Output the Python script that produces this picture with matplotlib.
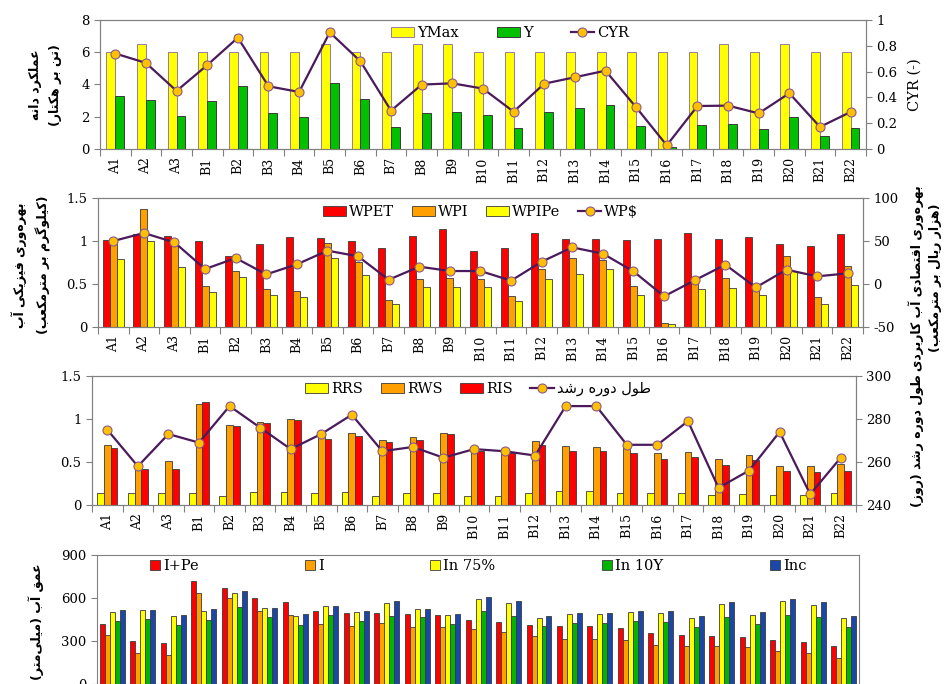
import numpy as np
import matplotlib
matplotlib.use("Agg")
import matplotlib.pyplot as plt
from matplotlib.ticker import FuncFormatter

plt.rcParams['font.family'] = ['DejaVu Serif', 'DejaVu Sans']
plt.rcParams['font.size'] = 9

# ---- data ----
cats = ['A1', 'A2', 'A3', 'B1', 'B2', 'B3', 'B4', 'B5', 'B6', 'B7', 'B8', 'B9', 'B10',
        'B11', 'B12', 'B13', 'B14', 'B15', 'B16', 'B17', 'B18', 'B19', 'B20', 'B21', 'B22']

ymax = [6, 6.5, 6, 6, 6, 6, 6, 6.5, 6, 6, 6.5, 6.5, 6, 6, 6, 6, 6, 6, 6, 6, 6.5, 6, 6.5, 6, 6]
yld = [3.31, 3.04, 2.02, 2.98, 3.88, 2.21, 2.0, 4.09, 3.1, 1.34, 2.23, 2.29, 2.11,
       1.32, 2.29, 2.52, 2.75, 1.45, 0.14, 1.51, 1.55, 1.26, 1.96, 0.79, 1.32]
cyr = [0.74, 0.667, 0.45, 0.65, 0.863, 0.486, 0.442, 0.904, 0.68, 0.297, 0.499, 0.509, 0.468,
       0.289, 0.506, 0.556, 0.607, 0.323, 0.028, 0.333, 0.336, 0.276, 0.432, 0.171, 0.287]

wpet = [1.016, 1.08, 1.06, 1.0, 0.83, 0.965, 1.05, 1.03, 1.0, 0.92, 1.06, 1.14, 0.884,
        0.922, 1.09, 1.02, 1.02, 1.01, 1.02, 1.09, 1.02, 1.05, 0.97, 0.94, 1.08]
wpi = [0.977, 1.376, 0.953, 0.473, 0.647, 0.442, 0.419, 0.977, 0.76, 0.318, 0.562, 0.566, 0.554,
       0.36, 0.674, 0.80, 0.78, 0.473, 0.047, 0.54, 0.566, 0.47, 0.83, 0.349, 0.71]
wpipe = [0.795, 0.996, 0.698, 0.41, 0.58, 0.368, 0.353, 0.806, 0.608, 0.267, 0.461, 0.469, 0.469,
         0.30, 0.554, 0.616, 0.674, 0.376, 0.035, 0.442, 0.453, 0.376, 0.647, 0.267, 0.49]
wp_money = [50.0, 59.3, 48.4, 17.4, 30.2, 11.2, 22.9, 38.8, 32.2, 5.0, 20.2, 15.1, 15.1,
            3.9, 26.0, 42.6, 35.3, 14.7, -14.3, 4.3, 22.5, -3.9, 16.7, 8.9, 12.4]

rrs = [0.135, 0.135, 0.143, 0.135, 0.104, 0.147, 0.147, 0.136, 0.155, 0.109, 0.135, 0.135, 0.104,
       0.108, 0.135, 0.158, 0.158, 0.143, 0.143, 0.135, 0.116, 0.128, 0.112, 0.116, 0.143]
rws = [0.70, 0.49, 0.51, 1.18, 0.93, 0.96, 0.996, 0.833, 0.833, 0.756, 0.79, 0.84, 0.65,
       0.64, 0.742, 0.684, 0.68, 0.657, 0.603, 0.618, 0.53, 0.576, 0.452, 0.452, 0.479]
ris = [0.66, 0.42, 0.42, 1.2, 0.92, 0.957, 0.988, 0.767, 0.80, 0.729, 0.76, 0.82, 0.63,
       0.607, 0.696, 0.63, 0.626, 0.60, 0.533, 0.56, 0.468, 0.522, 0.394, 0.383, 0.39]
gdays = [275, 258, 273, 269, 286, 276, 266, 273, 282, 265, 267, 262, 266,
         265, 263, 286, 286, 268, 268, 279, 248, 256, 274, 245, 262]

ipe = [419, 300, 288, 716, 672, 600, 570, 507, 498, 493, 486, 481, 447,
       433, 412, 405, 405, 391, 358, 342, 337, 330, 307, 291, 265]
irr = [342, 219, 205, 633, 602, 509, 484, 416, 407, 423, 400, 400, 381,
       360, 335, 314, 312, 307, 274, 265, 265, 258, 233, 219, 184]
in75 = [502, 514, 474, 509, 637, 530, 474, 547, 502, 565, 526, 481, 593,
        565, 458, 488, 488, 500, 498, 458, 556, 479, 579, 551, 463]
in10 = [442, 456, 409, 447, 535, 465, 414, 481, 440, 474, 465, 421, 507,
        474, 402, 423, 423, 437, 433, 400, 470, 419, 481, 470, 400]
inc = [514, 519, 484, 523, 649, 530, 486, 547, 509, 581, 526, 488, 609,
       579, 474, 498, 495, 509, 509, 474, 570, 502, 595, 570, 474]

# ---- minimal Persian shaping (matplotlib does no Arabic shaping) ----
FORMS = {
    'ا': ('\uFE8D', '\uFE8E', None, None), 'آ': ('\uFE81', '\uFE82', None, None),
    'ب': ('\uFE8F', '\uFE90', '\uFE91', '\uFE92'), 'ت': ('\uFE95', '\uFE96', '\uFE97', '\uFE98'),
    'د': ('\uFEA9', '\uFEAA', None, None), 'ر': ('\uFEAD', '\uFEAE', None, None),
    'ز': ('\uFEAF', '\uFEB0', None, None), 'ش': ('\uFEB5', '\uFEB6', '\uFEB7', '\uFEB8'),
    'ص': ('\uFEB9', '\uFEBA', '\uFEBB', '\uFEBC'), 'ط': ('\uFEC1', '\uFEC2', '\uFEC3', '\uFEC4'),
    'ع': ('\uFEC9', '\uFECA', '\uFECB', '\uFECC'), 'ف': ('\uFED1', '\uFED2', '\uFED3', '\uFED4'),
    'ق': ('\uFED5', '\uFED6', '\uFED7', '\uFED8'), 'ل': ('\uFEDD', '\uFEDE', '\uFEDF', '\uFEE0'),
    'م': ('\uFEE1', '\uFEE2', '\uFEE3', '\uFEE4'), 'ن': ('\uFEE5', '\uFEE6', '\uFEE7', '\uFEE8'),
    'ه': ('\uFEE9', '\uFEEA', '\uFEEB', '\uFEEC'), 'و': ('\uFEED', '\uFEEE', None, None),
    'ی': ('\uFBFC', '\uFBFD', '\uFBFE', '\uFBFF'), 'ک': ('\uFB8E', '\uFB8F', '\uFB90', '\uFB91'),
    'گ': ('\uFB92', '\uFB93', '\uFB94', '\uFB95'),
}


def fa(s):
    lines = []
    for line in s.split('\n'):
        out = []
        for i, c in enumerate(line):
            f = FORMS.get(c)
            if f is None:
                if c != '\u200c':
                    out.append(c)
                continue
            prev = FORMS.get(line[i - 1]) if i > 0 else None
            nxt = FORMS.get(line[i + 1]) if i + 1 < len(line) else None
            jp = prev is not None and prev[2] is not None
            jn = nxt is not None and f[2] is not None
            out.append(f[3] if jp and jn else f[1] if jp else f[2] if jn else f[0])
        vis = ''.join(reversed(out))
        lines.append(vis.translate(str.maketrans('()', ')(')))
    return '\n'.join(lines)


GRAY = '#808080'
LINE = '#4b1a5c'
MARK = '#ffc000'
MEDGE = '#8a5a8a'
EDGE = '#3a3a3a'
fmt = FuncFormatter(lambda v, p: f'{v:g}')
x = np.arange(len(cats))

fig = plt.figure(figsize=(9.44, 6.84), dpi=100)


def frame(ax, lo, hi, ticks, labels=True):
    ax.set_xlim(-0.5, len(cats) - 0.5)
    ax.set_ylim(lo, hi)
    ax.set_yticks(ticks)
    ax.yaxis.set_major_formatter(fmt)
    ax.set_xticks(np.arange(-0.5, len(cats)), [])
    ax.set_xticks(x, cats if labels else [], minor=True, rotation=90)
    ax.tick_params(axis='x', which='major', length=5, color=GRAY)
    ax.tick_params(axis='x', which='minor', length=0, pad=6, labelsize=9)
    ax.tick_params(axis='y', length=4, color=GRAY, labelsize=9.5)
    for s in ax.spines.values():
        s.set_color(GRAY)


def twin(ax, lo, hi, ticks):
    tx = ax.twinx()
    tx.set_ylim(lo, hi)
    tx.set_yticks(ticks)
    tx.yaxis.set_major_formatter(fmt)
    tx.tick_params(axis='y', length=4, color=GRAY, labelsize=9.5)
    for s in tx.spines.values():
        s.set_color(GRAY)
    return tx


def trend(tx, vals, label):
    return tx.plot(x, vals, color=LINE, lw=1.6, marker='o', ms=6.5, mfc=MARK,
                   mec=MEDGE, mew=0.8, label=label)[0]


leg_kw = dict(frameon=False, fontsize=10.5, handletextpad=0.2, borderaxespad=0)

# ---- panel 1: yield ----
ax1 = fig.add_axes([0.1059, 0.7822, 0.8114, 0.1886])
frame(ax1, 0, 8, [0, 2, 4, 6, 8])
w = 0.29
b1 = ax1.bar(x - w / 2, ymax, w, color='#ffff00', edgecolor='#9a7a9a', lw=0.7)
b2 = ax1.bar(x + w / 2, yld, w, color='#00c000', edgecolor=EDGE, lw=0.7)
t1 = twin(ax1, 0, 1, [0, 0.2, 0.4, 0.6, 0.8, 1])
l1 = trend(t1, cyr, 'CYR')
t1.legend([b1, b2, l1], ['YMax', 'Y', 'CYR'], loc='center', bbox_to_anchor=(0.535, 0.9),
          ncol=3, columnspacing=2.6, handlelength=1.6, handleheight=0.7, **leg_kw)

# ---- panel 2: water productivity ----
ax2 = fig.add_axes([0.1038, 0.5219, 0.8104, 0.1886])
frame(ax2, 0, 1.5, [0, 0.5, 1, 1.5])
w = 0.23
c1 = ax2.bar(x - w, wpet, w, color='#ff0000', edgecolor=EDGE, lw=0.6)
c2 = ax2.bar(x, wpi, w, color='#ffa000', edgecolor=EDGE, lw=0.6)
c3 = ax2.bar(x + w, wpipe, w, color='#ffff00', edgecolor=EDGE, lw=0.6)
t2 = twin(ax2, -50, 100, [-50, 0, 50, 100])
l2 = trend(t2, wp_money, 'WP$')
t2.legend([c1, c2, c3, l2], ['WPET', 'WPI', 'WPIPe', 'WP$'], loc='center',
          bbox_to_anchor=(0.5, 0.89), ncol=4, columnspacing=1.2, handlelength=1.6,
          handleheight=0.7, **leg_kw)

# ---- panel 3: relative supply / growth period ----
ax3 = fig.add_axes([0.0975, 0.2617, 0.8093, 0.1886])
frame(ax3, 0, 1.5, [0, 0.5, 1, 1.5])
w = 0.22
d1 = ax3.bar(x - w, rrs, w, color='#ffff00', edgecolor=EDGE, lw=0.6)
d2 = ax3.bar(x, rws, w, color='#ffa000', edgecolor=EDGE, lw=0.6)
d3 = ax3.bar(x + w, ris, w, color='#ff0000', edgecolor=EDGE, lw=0.6)
t3 = twin(ax3, 240, 300, [240, 260, 280, 300])
l3 = trend(t3, gdays, 'growth')
t3.legend([d1, d2, d3, l3], ['RRS', 'RWS', 'RIS', fa('طول دوره رشد')], loc='center',
          bbox_to_anchor=(0.505, 0.9), ncol=4, columnspacing=1.2, handlelength=1.6,
          handleheight=0.7, **leg_kw)

# ---- panel 4: water depth (category labels fall below the picture) ----
ax4 = fig.add_axes([0.1028, 0.0, 0.8072, 0.1886])
frame(ax4, 0, 900, [0, 300, 600, 900], labels=False)
w = 0.164
series4 = [(ipe, '#ff0000', 'I+Pe'), (irr, '#ffa000', 'I'), (in75, '#ffff00', 'In 75%'),
           (in10, '#00b400', 'In 10Y'), (inc, '#1a47a8', 'Inc')]
hs = []
for k, (vals, col, lab) in enumerate(series4):
    hs.append(ax4.bar(x + (k - 2) * w, vals, w, color=col, edgecolor=EDGE, lw=0.6))
ax4.legend(hs, [s[2] for s in series4], loc='center', bbox_to_anchor=(0.5, 0.915), ncol=5,
           columnspacing=7.3, handlelength=0.7, handleheight=0.7, **leg_kw)

# ---- axis titles ----
fa_kw = dict(rotation=90, ha='center', va='center', family='DejaVu Sans', weight='bold',
             fontsize=9, multialignment='center', linespacing=1.7)
fig.text(45 / 944, 1 - 85 / 684, fa('عملکرد دانه\n(تن بر هکتار)'), **fa_kw)
fig.text(915 / 944, 1 - 85 / 684, 'CYR (-)', rotation=90, ha='center', va='center',
         fontsize=10.5)
fig.text(31 / 944, 1 - 265 / 684, fa('بهره\u200cوری فیزیکی آب\n(کیلوگرم بر مترمکعب)'), **fa_kw)
fig.text(925 / 944, 1 - 278 / 684, fa('بهره\u200cوری اقتصادی آب کاربردی\n(هزار ریال بر مترمکعب)'),
         **{**fa_kw, 'linespacing': 1.45})
fig.text(917 / 944, 1 - 441 / 684, fa('طول دوره رشد (روز)'), **fa_kw)
fig.text(36 / 944, 1 - 622 / 684, fa('عمق آب (میلی\u200cمتر)'), **fa_kw)

fig.savefig('out.png', dpi=100)
